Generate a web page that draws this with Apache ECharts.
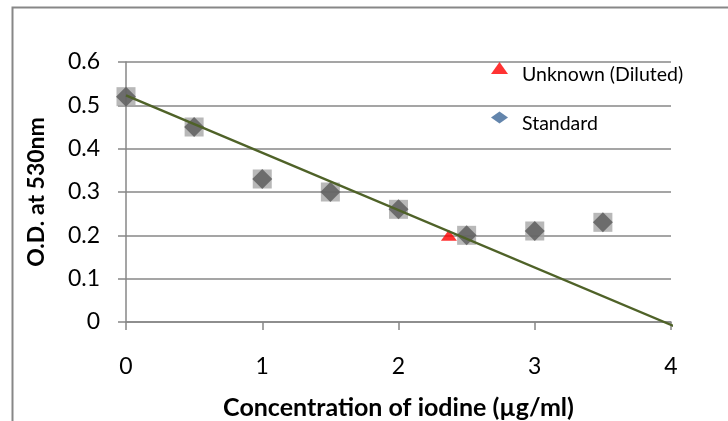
<!DOCTYPE html>
<html>
<head>
<meta charset="utf-8">
<script src="https://cdn.jsdelivr.net/npm/echarts@6/dist/echarts.min.js"></script>
<style>
  html, body { margin: 0; padding: 0; background: #fff; }
  #chart { width: 728px; height: 421px; }
</style>
</head>
<body>
<div id="chart"></div>
<script>
// ---- data ----
var standardX = [0, 0.5, 1, 1.5, 2, 2.5, 3, 3.5];
var standardY = [0.52, 0.45, 0.33, 0.30, 0.26, 0.20, 0.21, 0.23];
var unknownX = [2.37];
var unknownY = [0.20];
var trendX = [0, 4.04];
var trendY = [0.523, -0.012];
var seriesNames = ['Unknown (Diluted)', 'Standard'];
var xTitle = 'Concentration of iodine (µg/ml)';
var yTitle = 'O.D. at 530nm';

function pairs(xs, ys) { return xs.map(function (x, i) { return [x, ys[i]]; }); }

var FONT = 'Lato';
var GRAY = '#878787';

var chart = echarts.init(document.getElementById('chart'), null, { renderer: 'canvas' });
chart.setOption({
  animation: false,
  backgroundColor: '#ffffff',
  graphic: [{
    type: 'rect', silent: true, z: 0,
    shape: { x: 12.5, y: 7.5, width: 800, height: 500 },
    style: { fill: 'none', stroke: GRAY, lineWidth: 2 }
  }],
  grid: { left: 126, right: 57, top: 62, bottom: 99, containLabel: false, outerBoundsMode: 'none' },
  legend: {
    orient: 'vertical',
    left: 486, top: 57,
    itemWidth: 17, itemHeight: 12,
    itemGap: 27,
    selectedMode: false,
    formatter: '{t|{name}}',
    textStyle: {
      fontFamily: FONT, fontSize: 19.5, color: '#000',
      rich: { t: { fontFamily: FONT, fontSize: 19.5, color: '#000', padding: [13, 0, 0, 9] } }
    },
    data: [
      { name: seriesNames[0], icon: 'triangle', itemStyle: { color: '#ff0000' } },
      { name: seriesNames[1], icon: 'diamond', itemStyle: { color: '#3c6697' } }
    ]
  },
  xAxis: {
    type: 'value', min: 0, max: 4, interval: 1,
    name: xTitle, nameLocation: 'middle', nameGap: 73,
    nameTextStyle: { fontFamily: FONT, fontSize: 25, fontWeight: 'bold', color: '#000' },
    axisLine: { show: true, onZero: false, lineStyle: { color: GRAY, width: 1.5 } },
    axisTick: { show: true, length: 8, lineStyle: { color: GRAY, width: 1.5 } },
    axisLabel: { fontFamily: FONT, fontSize: 23, color: '#000', margin: 33 },
    splitLine: { show: false }
  },
  yAxis: {
    type: 'value', min: 0, max: 0.6, interval: 0.1,
    name: yTitle, nameLocation: 'middle', nameGap: 78, nameRotate: 90,
    nameTextStyle: { fontFamily: FONT, fontSize: 23, fontWeight: 'bold', color: '#000' },
    axisLine: { show: true, lineStyle: { color: GRAY, width: 1.5 } },
    axisTick: { show: true, length: 8, lineStyle: { color: GRAY, width: 1.5 } },
    axisLabel: { fontFamily: FONT, fontSize: 23, color: '#000', margin: 26 },
    splitLine: { show: true, lineStyle: { color: GRAY, width: 1.5 } }
  },
  series: [
    {
      name: 'StandardBg', type: 'scatter', z: 2,
      symbol: 'rect', symbolSize: [19, 19],
      itemStyle: { color: '#a6a6a6' },
      data: pairs(standardX, standardY)
    },
    {
      name: seriesNames[1], type: 'scatter', z: 3,
      symbol: 'diamond', symbolSize: [20, 20],
      itemStyle: { color: '#595959' },
      data: pairs(standardX, standardY)
    },
    {
      name: seriesNames[0], type: 'scatter', z: 4,
      symbol: 'triangle', symbolSize: [16, 11],
      itemStyle: { color: '#ff0000' },
      data: pairs(unknownX, unknownY)
    },
    {
      name: 'Trend', type: 'line', z: 5, clip: false,
      symbol: 'none', silent: true,
      lineStyle: { color: '#4f6228', width: 2.5 },
      data: pairs(trendX, trendY)
    }
  ]
});
</script>
</body>
</html>
